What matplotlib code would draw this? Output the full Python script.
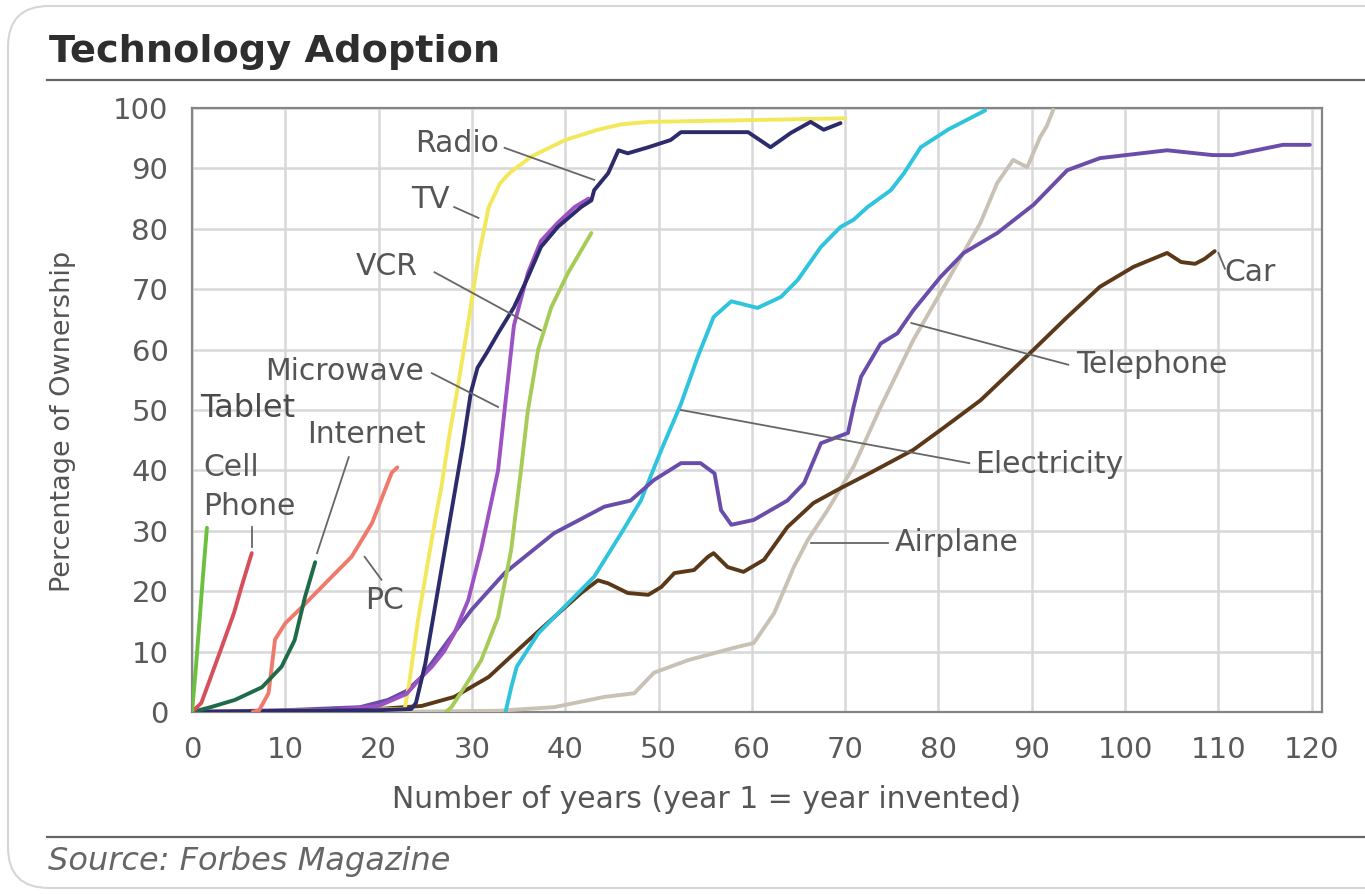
import matplotlib
matplotlib.use("Agg")
import matplotlib.pyplot as plt
from matplotlib.patches import FancyBboxPatch
from matplotlib.lines import Line2D

# ---- data (years since invention vs % ownership) ----
tablet_x = [0, 0.4, 0.8, 1.2, 1.6]
tablet_y = [0, 7, 15, 23, 30.5]

cell_x = [0, 1.0, 1.9, 3.2, 4.5, 5.3, 6.4]
cell_y = [0, 1.5, 5.3, 10.8, 16.4, 20.7, 26.3]

internet_x = [0, 2, 4.6, 7.5, 9.6, 11.0, 12.1, 13.2]
internet_y = [0, 0.8, 2.0, 4.1, 7.5, 11.9, 19.0, 24.8]

pc_x = [6.5, 7.2, 8.2, 8.9, 10.0, 11.8, 14.6, 17.1, 19.3, 21.4, 22.0]
pc_y = [0, 0.3, 3.1, 12.0, 14.7, 17.4, 21.8, 25.7, 31.3, 39.6, 40.5]

tv_x = [0, 22.8, 23.3, 24.2, 25.3, 26.2, 26.7, 27.6, 28.4, 29.6, 30.7, 31.8,
        33.0, 34.0, 36.4, 40.0, 43.5, 46.0, 49.0, 60.0, 70.0]
tv_y = [0, 0.5, 5, 15, 25, 33, 37, 46, 53, 64.4, 75.3, 83.6,
        87.5, 89.2, 92, 94.7, 96.4, 97.3, 97.7, 98.0, 98.3]

radio_x = [0, 10, 20, 23.5, 24.0, 25.0, 26.0, 27.0, 28.0, 29.0, 29.9, 30.6,
           31.6, 32.8, 34.5, 36.0, 37.4, 39.2, 41.7, 42.8, 43.1, 44.6, 45.7,
           46.7, 48.9, 51.3, 52.4, 56.0, 59.6, 62.0, 64.2, 66.3, 67.7, 69.5]
radio_y = [0, 0.2, 0.3, 0.5, 1.5, 8, 17, 26, 35, 44, 53, 57,
           59.5, 62.7, 67, 72, 77, 80.3, 83.6, 84.7, 86.4, 89.2, 93,
           92.5, 93.5, 94.7, 96.0, 96.0, 96.0, 93.5, 95.9, 97.7, 96.4, 97.5]

microwave_x = [0, 15, 20, 23, 24.6, 25.7, 27.0, 28.1, 29.6, 31.0, 32.8, 33.5,
               34.5, 36.0, 37.4, 39.2, 41.0, 42.5]
microwave_y = [0, 0.3, 1, 3, 5.8, 7.5, 10, 13, 18.5, 27, 40, 50,
               64, 72.7, 78, 81, 83.6, 85]

vcr_x = [27.2, 27.8, 29.2, 31.0, 32.8, 34.2, 35.3, 36.0, 37.1, 38.5, 40.3, 42.8]
vcr_y = [0, 0.8, 4.1, 8.6, 15.7, 26.8, 40.6, 50, 60, 67, 72.7, 79.3]

phone_x = [0, 10, 18, 21, 23, 24.6, 27.5, 30, 33.5, 38.8, 44.2, 47, 49.5,
           52.4, 54.5, 56, 56.7, 57.8, 60.2, 63.8, 65.6, 67.4, 70.3, 70.9,
           71.7, 73.8, 75.6, 77.3, 80.2, 82.7, 86.3, 90.2, 93.8, 97.3, 104.5,
           109.4, 111.5, 116.9, 119.8]
phone_y = [0, 0.3, 0.8, 2, 3.5, 5.8, 11.9, 17, 23, 29.6, 34, 35, 38.4,
           41.2, 41.2, 39.5, 33.4, 31, 31.8, 35, 37.9, 44.5, 46.2, 50.5,
           55.5, 61, 62.7, 66.5, 72, 76, 79.3, 84, 89.7, 91.7, 93,
           92.2, 92.2, 93.9, 93.9]

elec_x = [33.6, 34.2, 34.8, 37.1, 39.9, 43.1, 46.0, 48.1, 50.3, 52.4, 54.2,
          55.9, 57.8, 60.6, 63.1, 64.9, 67.4, 69.5, 70.9, 72.4, 74.9, 76.3,
          78.1, 81.0, 84.5, 85.0]
elec_y = [0, 4, 7.5, 13, 17.4, 22.4, 29.6, 35, 43.4, 51, 58.8,
          65.4, 68, 66.9, 68.7, 71.5, 77, 80.3, 81.5, 83.6, 86.4, 89.2,
          93.5, 96.4, 99.2, 99.6]

car_x = [0, 10, 20, 24.6, 28.1, 31.8, 35.3, 38.8, 41.7, 43.5, 44.6, 46.7,
         48.9, 50.3, 51.7, 53.8, 55.3, 55.9, 57.4, 59.1, 61.3, 63.8, 66.6,
         69.2, 72.7, 77.3, 80.5, 84.5, 87.5, 90.2, 93.8, 97.3, 100.9, 104.5,
         106.0, 107.5, 108.5, 109.6]
car_y = [0, 0.2, 0.5, 1, 2.5, 5.8, 10.8, 15.7, 19.7, 21.8, 21.3, 19.7,
         19.4, 20.7, 23, 23.5, 25.7, 26.3, 24, 23.2, 25.2, 30.6, 34.6,
         36.8, 39.6, 43.4, 47, 51.6, 56, 60, 65.4, 70.4, 73.7, 76,
         74.5, 74.2, 75, 76.3]

plane_x = [0, 20, 32.8, 38.8, 44.2, 47.4, 49.5, 53.2, 58.5, 60.2, 62.4, 64.5,
           66.0, 68.1, 70.9, 73.8, 77.3, 81.0, 84.5, 86.3, 88.0, 89.5, 90.9,
           91.6, 92.3]
plane_y = [0, 0, 0.2, 0.8, 2.5, 3.1, 6.5, 8.6, 10.8, 11.4, 16.4, 24,
           28.5, 33.4, 40.6, 50.5, 61.6, 71.5, 81, 87.6, 91.4, 90.2, 95.2,
           97, 99.7]

# drawing order, colours
series = [
    (plane_x, plane_y, "#c9c1b4"),
    (car_x, car_y, "#5a3818"),
    (elec_x, elec_y, "#2ec4de"),
    (phone_x, phone_y, "#6a4daa"),
    (tv_x, tv_y, "#f3e85c"),
    (vcr_x, vcr_y, "#a6cc58"),
    (microwave_x, microwave_y, "#9d52c4"),
    (radio_x, radio_y, "#2c2b6c"),
    (pc_x, pc_y, "#ef7a6c"),
    (internet_x, internet_y, "#1e6b4a"),
    (cell_x, cell_y, "#d84f5c"),
    (tablet_x, tablet_y, "#6cc03e"),
]

# label text, centre position, alignment, pointer line (start, end)
labels = [
    ("Radio", (28.4, 94.2), "center", ((33.5, 93.4), (43.1, 88.1))),
    ("TV", (25.6, 84.8), "center", ((28.1, 83.6), (30.7, 81.8))),
    ("VCR", (20.9, 73.7), "center", ((26.0, 72.8), (37.4, 63.2))),
    ("Microwave", (16.4, 56.3), "center", ((25.7, 56.1), (32.8, 50.5))),
    ("Internet", (18.7, 45.9), "center", ((16.8, 42.2), (13.4, 26.3))),
    ("Cell", (1.2, 40.4), "left", None),
    ("Phone", (1.2, 34.1), "left", ((6.4, 30.6), (6.4, 27.3))),
    ("PC", (20.6, 18.5), "center", ((18.5, 25.7), (20.3, 21.9))),
    ("Telephone", (102.9, 57.5), "center", ((77.1, 64.4), (93.9, 57.5))),
    ("Car", (113.4, 72.8), "center", ((110.0, 76.0), (110.7, 73.4))),
    ("Electricity", (91.9, 41.0), "center", ((52.4, 50.0), (83.3, 41.2))),
    ("Airplane", (81.9, 28.0), "center", ((66.3, 28.0), (74.6, 28.0))),
]

W, H = 1365, 894
fig = plt.figure(figsize=(W / 100, H / 100), dpi=100)
fig.patch.set_facecolor("white")

# rounded frame around everything
frame = FancyBboxPatch((8 / W, 6 / H), 1.2, 882 / H,
                       boxstyle="round,pad=0,rounding_size=0.03",
                       transform=fig.transFigure, facecolor="none",
                       edgecolor="#d6d6d6", lw=1.5, mutation_aspect=W / H)
fig.patches.append(frame)

ax = fig.add_axes([192 / W, 1 - 712 / H, (1322 - 192) / W, (712 - 108) / H])

for xs, ys, col in series:
    ax.plot(xs, ys, color=col, lw=2.8, solid_capstyle="round",
            solid_joinstyle="round", zorder=3)

for text, (tx, ty), ha, ptr in labels:
    ax.text(tx, ty, text, ha=ha, va="center", fontsize=21.5, color="#555555",
            zorder=5)
    if ptr is not None:
        (x0, y0), (x1, y1) = ptr
        ax.plot([x0, x1], [y0, y1], color="#666666", lw=1.3, zorder=4)
ax.text(0.9, 50.3, "Tablet", ha="left", va="center", fontsize=23,
        color="#4a4a4a", zorder=5)

ax.set_xlim(0, 121.1)
ax.set_ylim(0, 100)
ax.set_xticks(range(0, 121, 10))
ax.set_yticks(range(0, 101, 10))
ax.grid(True, color="#d8d8d8", lw=1.8, zorder=0)
ax.set_axisbelow(True)
for s in ax.spines.values():
    s.set_color("#858585")
    s.set_linewidth(1.6)
ax.tick_params(length=0, labelsize=21, colors="#5a5a5a")
ax.tick_params(axis="y", pad=17)
ax.tick_params(axis="x", pad=17)

fig.text(63 / W, 1 - 421 / H, "Percentage of Ownership", rotation=90,
         ha="center", va="center", fontsize=19.5, color="#555555")
fig.text(707 / W, 1 - 800 / H, "Number of years (year 1 = year invented)",
         ha="center", va="center", fontsize=21.5, color="#555555")

fig.text(49 / W, 1 - 62 / H, "Technology Adoption", ha="left",
         va="baseline", fontsize=27.5, fontweight="bold", color="#2e2e2e")
fig.add_artist(Line2D([47 / W, 1.0], [1 - 80 / H, 1 - 80 / H],
                      transform=fig.transFigure, color="#666666", lw=1.6))
fig.add_artist(Line2D([47 / W, 1.0], [1 - 837 / H, 1 - 837 / H],
                      transform=fig.transFigure, color="#666666", lw=1.6))
fig.text(48 / W, 1 - 870 / H, "Source: Forbes Magazine", ha="left",
         va="baseline", fontsize=23, fontstyle="italic", color="#666666")

fig.savefig("out.png", dpi=100)
